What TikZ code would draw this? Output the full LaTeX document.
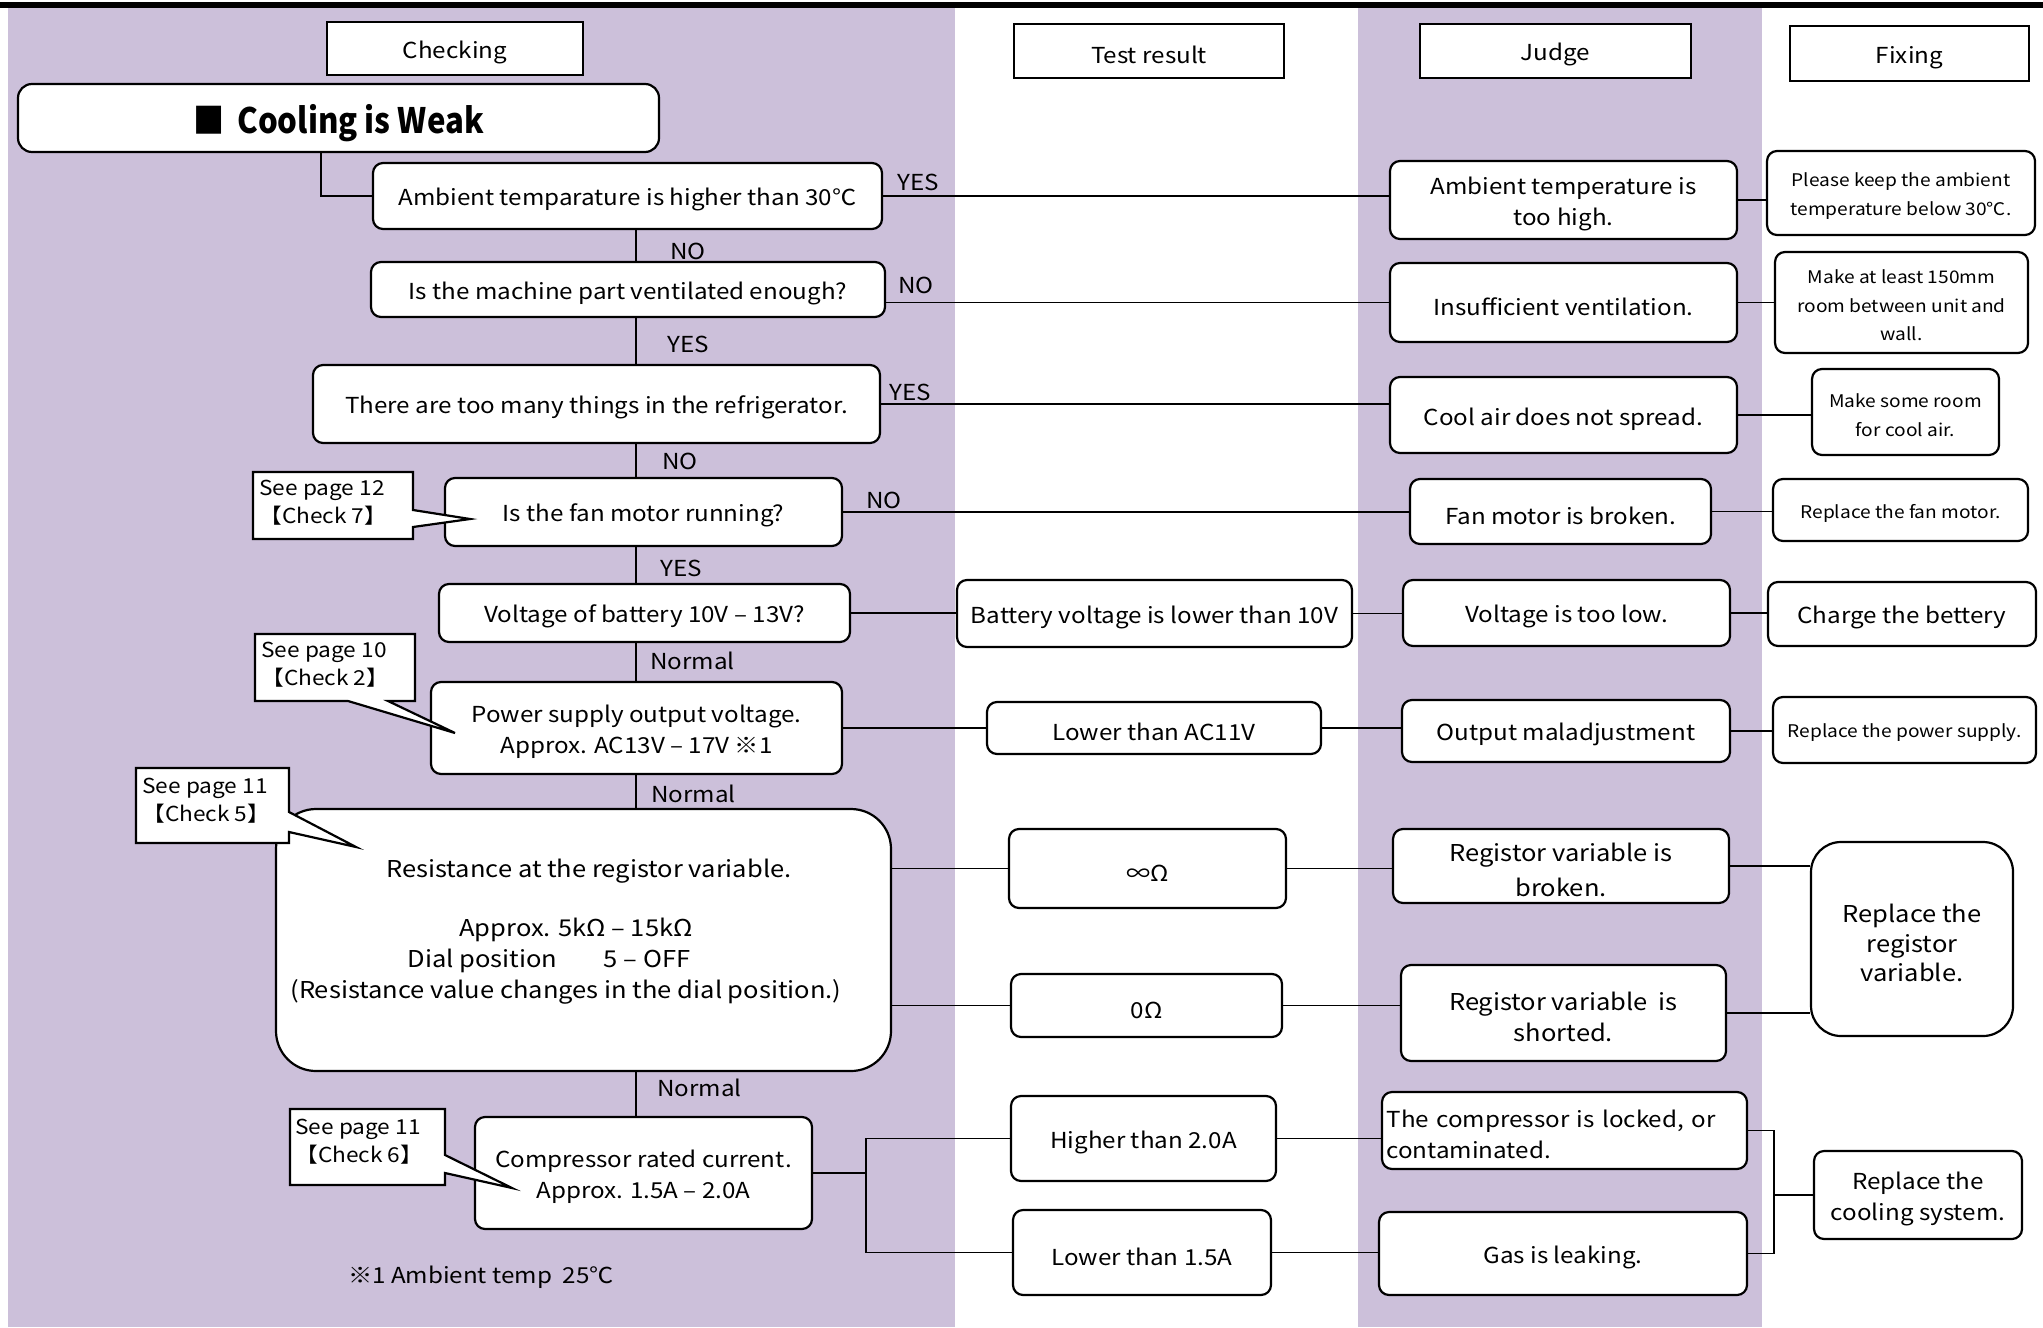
\documentclass[tikz,border=0pt]{standalone}
\usepackage{fontspec}
\setmainfont[FakeStretch=1.1]{Noto Sans CJK JP}
\newfontfamily\titlefam[FakeStretch=0.89]{Noto Sans CJK JP}
\definecolor{lav}{HTML}{CCC0DA}
\newcommand\mainf{\fontsize{11}{15.5}\selectfont}
\newcommand\bigf{\fontsize{11.6}{15.5}\selectfont}
\newcommand\smallf{\fontsize{8.7}{14.2}\selectfont}
\newcommand\callf{\fontsize{10.3}{14}\selectfont}
\newcommand\titlef{\titlefam\fontsize{17.5}{20}\selectfont\bfseries}
\newcommand\tup{\rule{0pt}{1.15em}}
\begin{document}
\begin{tikzpicture}[x=0.5pt,y=-0.5pt,
 box/.style={draw, line width=1.1pt, rounded corners=5pt, fill=white, align=center, inner sep=1pt, font=\mainf},
 hdr/.style={draw, line width=1.1pt, fill=white, inner sep=1pt, font=\mainf},
 sz/.style 2 args={minimum width=#1*0.5pt, minimum height=#2*0.5pt},
 lab/.style={anchor=west, inner sep=0pt, font=\mainf},
 con/.style={line width=0.9pt},
 sm/.style={font=\smallf},
 bg/.style={font=\bigf},
 callout/.style={draw, line width=1.1pt, fill=white, line join=miter},
 ctext/.style={anchor=north west, inner sep=0pt, align=left, font=\callf}]
\useasboundingbox (0,0) rectangle (2043,1327);
% background columns
\fill[lav] (8,8) rectangle (955,1327);
\fill[lav] (1358,8) rectangle (1762,1327);
\fill[black] (0,2.5) rectangle (2043,8);
% headers
\node[hdr, sz={256}{53}] (hchk) at (455,48.5) {\tup Checking};
\node[hdr, sz={270}{54}] (hres) at (1149,51) {\tup Test result};
\node[hdr, sz={271}{54}] (hjud) at (1555.5,51) {\tup Judge};
\node[hdr, sz={239}{55}] (hfix) at (1909.5,53.5) {\tup Fixing};
% title
\node[box, sz={641}{68}, rounded corners=7pt, font=\titlef] (title) at (338.5,118) {\tup■\hspace{6.5pt}Cooling is Weak};
% main column
\node[box, sz={509}{66}] (m1) at (627.5,196) {\tup Ambient temparature is higher than 30℃};
\node[box, sz={514}{55}] (m2) at (628,289.5) {\tup Is the machine part ventilated enough?};
\node[box, sz={567}{78}] (m3) at (596.5,404) {\tup There are too many things in the refrigerator.};
\node[box, sz={397}{68}] (m4) at (643.5,512) {\tup Is the fan motor running?};
\node[box, sz={411}{58}] (m5) at (644.5,613) {\tup Voltage of battery 10V – 13V?};
\node[box, sz={411}{92}] (m6) at (636.5,728) {\tup Power supply output voltage.\\Approx. AC13V – 17V ※1};
\node[box, sz={615}{262}, rounded corners=20pt] (m7) at (583.5,940) {};
\node[font=\bigf, align=center, inner sep=0pt] (m7t) at (576,928) {\tup\rule{13pt}{0pt}Resistance at the registor variable.\\[14pt]Approx. 5kΩ – 15kΩ\\Dial position\qquad 5 – OFF\rule{27pt}{0pt}\\(Resistance value changes in the dial position.)\rule{10pt}{0pt}};
\node[box, sz={337}{112}] (m8) at (643.5,1173) {\tup Compressor rated current.\\Approx. 1.5A – 2.0A};
% test result column
\node[box, sz={395}{67}] (t5) at (1154.5,613.5) {\tup Battery voltage is lower than 10V};
\node[box, sz={334}{52}] (t6) at (1154,728) {\tup Lower than AC11V};
\node[box, sz={277}{79}] (t7a) at (1147.5,868.5) {\tup∞Ω};
\node[box, sz={271}{63}] (t7b) at (1146.5,1005.5) {\tup 0Ω};
\node[box, sz={265}{85}] (t8a) at (1143.5,1138.5) {\tup Higher than 2.0A};
\node[box, sz={258}{85}] (t8b) at (1142,1252.5) {\tup Lower than 1.5A};
% judge column
\node[box, sz={347}{78}] (j1) at (1563.5,200) {\tup Ambient temperature is\\too high.};
\node[box, sz={347}{79}] (j2) at (1563.5,302.5) {\tup Insufficient ventilation.};
\node[box, sz={347}{76}] (j3) at (1563.5,415) {\tup Cool air does not spread.};
\node[box, sz={301}{65}] (j4) at (1560.5,511.5) {\tup Fan motor is broken.};
\node[box, sz={327}{66}] (j5) at (1566.5,613) {\tup Voltage is too low.};
\node[box, sz={328}{62}] (j6) at (1566,731) {\tup Output maladjustment};
\node[box, sz={336}{74}, bg] (j7a) at (1561,866) {\tup Registor variable is\\[2pt]broken.};
\node[box, sz={325}{96}, bg] (j7b) at (1563.5,1013) {\tup Registor variable\ \ is\\shorted.};
\node[box, sz={365}{77}, align=left, text width=178pt, inner xsep=2pt] (j8a) at (1564.5,1130.5) {\tup The compressor is locked, or\\contaminated.};
\node[box, sz={368}{83}] (j8b) at (1563,1253.5) {\tup Gas is leaking.};
% fixing column
\node[box, sz={268}{84}, sm] (f1) at (1901,193) {\tup Please keep the ambient\\temperature below 30℃.};
\node[box, sz={253}{101}, sm] (f2) at (1901.5,302.5) {\tup Make at least 150mm\\room between unit and\\wall.};
\node[box, sz={187}{86}, sm] (f3) at (1905.5,412) {\tup Make some room\\for cool air.};
\node[box, sz={255}{62}, sm] (f4) at (1900.5,510) {\tup Replace the fan motor.};
\node[box, sz={268}{64}] (f5) at (1902,614) {\tup Charge the bettery};
\node[box, sz={263}{66}, sm] (f6) at (1904.5,730) {\tup Replace the power supply.};
\node[box, sz={202}{194}, rounded corners=15pt, font=\fontsize{11.6}{14.7}\selectfont] (f7) at (1912,939) {\tup Replace the\\registor\\variable.};
\node[box, sz={208}{88}] (f8) at (1918,1195) {\tup Replace the\\cooling system.};
% branch labels
\node[lab] (lno1) at (670,251) {NO};
\node[lab] (lyes2) at (667,344) {YES};
\node[lab] (lno3) at (662,461) {NO};
\node[lab] (lyes4) at (660,568) {YES};
\node[lab] (lnor5) at (650,661) {Normal};
\node[lab] (lnor6) at (651,794) {Normal};
\node[lab] (lnor7) at (657,1088) {Normal};
\node[lab] (ryes1) at (897,182) {YES};
\node[lab] (rno2) at (898,285) {NO};
\node[lab] (ryes3) at (889,392) {YES};
\node[lab] (rno4) at (866,500) {NO};
% footnote
\node[font=\mainf] (fn) at (481,1277) {※1 Ambient temp\ \ 25℃};
% helper coordinates
\coordinate (sp) at (636,0);
\coordinate (tc) at (321,0);
\coordinate (lb) at (866,1173);
\coordinate (rb) at (1774,1195);
% connectors
\draw[con] (title.south -| tc) |- (m1.west);
\draw[con] (m1.south -| sp) -- (m2.north -| sp);
\draw[con] (m2.south -| sp) -- (m3.north -| sp);
\draw[con] (m3.south -| sp) -- (m4.north -| sp);
\draw[con] (m4.south -| sp) -- (m5.north -| sp);
\draw[con] (m5.south -| sp) -- (m6.north -| sp);
\draw[con] (m6.south -| sp) -- (m7.north -| sp);
\draw[con] (m7.south -| sp) -- (m8.north -| sp);
\draw[con] (m1.east) -- (m1.east -| j1.west);
\draw[con] (j2.west) -- (j2.west -| m2.east);
\draw[con] (m3.east) -- (m3.east -| j3.west);
\draw[con] (m4.east) -- (m4.east -| j4.west);
\draw[con] (m5.east) -- (m5.east -| t5.west);
\draw[con] (t5.east) -- (t5.east -| j5.west);
\draw[con] (m6.east) -- (m6.east -| t6.west);
\draw[con] (t6.east) -- (t6.east -| j6.west);
\draw[con] (t7a.west) -- (t7a.west -| m7.east);
\draw[con] (t7b.west) -- (t7b.west -| m7.east);
\draw[con] (t7a.east) -- (t7a.east -| j7a.west);
\draw[con] (t7b.east) -- (t7b.east -| j7b.west);
\draw[con] (j7a.east) -- (j7a.east -| f7.west);
\draw[con] (j7b.east) -- (j7b.east -| f7.west);
\draw[con] (m8.east) -- (lb);
\draw[con] (t8a.west) -| (lb) |- (t8b.west);
\draw[con] (t8a.east) -- (t8a.east -| j8a.west);
\draw[con] (t8b.east) -- (t8b.east -| j8b.west);
\draw[con] (j8a.east) -| (rb) |- (j8b.east);
\draw[con] (rb) -- (f8.west);
\draw[con] (j1.east) -- (j1.east -| f1.west);
\draw[con] (j2.east) -- (j2.east -| f2.west);
\draw[con] (j3.east) -- (j3.east -| f3.west);
\draw[con] (j4.east) -- (j4.east -| f4.west);
\draw[con] (j5.east) -- (j5.east -| f5.west);
\draw[con] (j6.east) -- (j6.east -| f6.west);
% callouts
\draw[callout] (253,472) -- (413,472) -- (413,510) -- (470,519) -- (413,527) -- (413,539) -- (253,539) -- cycle;
\node[ctext] (c4) at (259,480) {See page 12\\【Check 7】};
\draw[callout] (255,634) -- (415,634) -- (415,701) -- (388,701) -- (455,733) -- (348,701) -- (255,701) -- cycle;
\node[ctext] (c6) at (261,642) {See page 10\\【Check 2】};
\draw[callout] (136,768) -- (289,768) -- (289,812) -- (356,847) -- (289,832) -- (289,843) -- (136,843) -- cycle;
\node[ctext] (c7) at (142,778) {See page 11\\【Check 5】};
\draw[callout] (290,1109) -- (445,1109) -- (445,1155) -- (512,1188) -- (445,1173) -- (445,1185) -- (290,1185) -- cycle;
\node[ctext] (c8) at (295,1119) {See page 11\\【Check 6】};
\end{tikzpicture}
\end{document}
